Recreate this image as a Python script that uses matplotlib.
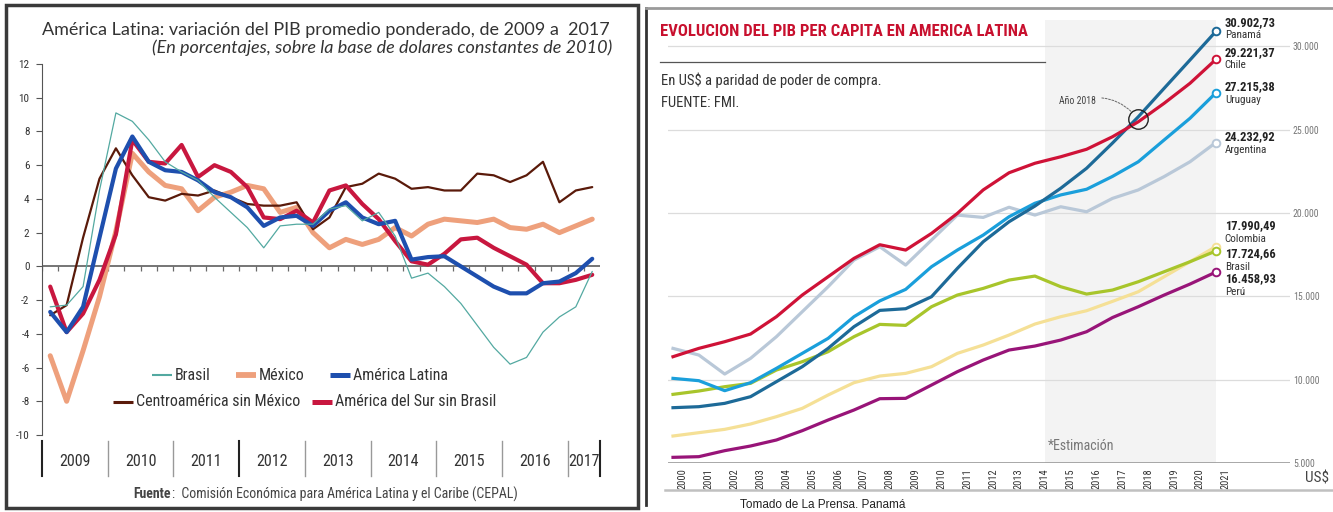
import numpy as np
import matplotlib
matplotlib.use("Agg")
import matplotlib.pyplot as plt
from matplotlib import font_manager
from matplotlib.patches import Rectangle
from matplotlib.transforms import ScaledTranslation

_nombres = {f.name for f in font_manager.fontManager.ttflist}


def fuente(*prefs):
    return [n for n in prefs if n in _nombres] + ["DejaVu Sans"]


COND = fuente("Roboto Condensed", "Fira Sans Condensed", "Liberation Sans Narrow")
TIT = fuente("Lato", "Open Sans")
SANS = fuente("Liberation Sans", "Arimo")
plt.rcParams["font.family"] = COND
plt.rcParams["axes.unicode_minus"] = False

# ---------- izquierda: variación del PIB (%), trimestral 2009T1 - 2017T2 ----------
anios_izq = [2009, 2010, 2011, 2012, 2013, 2014, 2015, 2016, 2017]
trimestres_2017 = 2

brasil_pib = [-2.4, -2.3, -1.2, 4.5,
              9.1, 8.6, 7.5, 6.2,
              5.6, 5.1, 4.1, 3.2,
              2.3, 1.1, 2.4, 2.5,
              2.5, 3.4, 3.6, 2.7,
              3.2, 1.8, -0.7, -0.4,
              -1.2, -2.2, -3.5, -4.8,
              -5.8, -5.4, -3.9, -3.0,
              -2.4, -0.3]
mexico_pib = [-5.3, -8.0, -5.0, -1.8,
              2.1, 6.7, 5.6, 4.8,
              4.6, 3.3, 4.1, 4.4,
              4.8, 4.6, 3.2, 3.5,
              2.0, 1.1, 1.6, 1.3,
              1.6, 2.3, 1.8, 2.5,
              2.8, 2.7, 2.6, 2.8,
              2.3, 2.2, 2.5, 2.0,
              2.4, 2.8]
america_latina_pib = [-2.7, -3.9, -2.4, 1.7,
                      5.8, 7.7, 6.2, 5.7,
                      5.6, 5.1, 4.4, 4.1,
                      3.5, 2.4, 2.9, 3.0,
                      2.4, 3.3, 3.8, 2.9,
                      2.5, 2.7, 0.4, 0.55,
                      0.6, 0.0, -0.6, -1.2,
                      -1.6, -1.6, -1.0, -0.9,
                      -0.4, 0.45]
centroamerica_pib = [-2.9, -2.3, 1.7, 5.2,
                     7.0, 5.4, 4.1, 3.9,
                     4.3, 4.2, 4.5, 4.1,
                     3.7, 3.6, 3.6, 3.8,
                     2.2, 2.9, 4.7, 4.9,
                     5.5, 5.2, 4.6, 4.7,
                     4.5, 4.5, 5.5, 5.4,
                     5.0, 5.4, 6.2, 3.8,
                     4.5, 4.7]
sur_sin_brasil_pib = [-1.2, -3.9, -2.8, -0.8,
                      1.9, 7.5, 6.2, 6.1,
                      7.2, 5.3, 6.0, 5.6,
                      4.7, 2.9, 2.8, 3.3,
                      2.6, 4.5, 4.8, 3.7,
                      2.8, 1.5, 0.3, 0.1,
                      0.75, 1.6, 1.7, 1.1,
                      0.6, 0.1, -1.0, -1.0,
                      -0.8, -0.5]

# ---------- derecha: PIB per cápita (US$ PPA) ----------
anios_der = list(range(2000, 2022))
panama = [8320, 8380, 8580, 8980, 9880, 10780, 11880, 13180, 14160, 14260, 14980,
          16680, 18280, 19480, 20420, 21490, 22690, 24200, 25780, 27490, 29190, 30902.73]
chile = [11380, 11880, 12280, 12740, 13780, 15080, 16180, 17280, 18100, 17780, 18780,
         19980, 21390, 22420, 22990, 23380, 23830, 24580, 25480, 26590, 27790, 29221.37]
uruguay = [10080, 9940, 9340, 9820, 10680, 11580, 12480, 13780, 14730, 15420, 16780,
           17780, 18680, 19780, 20590, 21090, 21430, 22200, 23080, 24390, 25690, 27215.38]
argentina = [11880, 11480, 10340, 11280, 12580, 14080, 15580, 17180, 17980, 16880, 18380,
             19880, 19740, 20350, 19880, 20380, 20080, 20880, 21390, 22190, 23080, 24232.92]
colombia = [6620, 6820, 7020, 7340, 7780, 8280, 9080, 9820, 10220, 10380, 10780,
            11580, 12080, 12680, 13340, 13780, 14140, 14700, 15280, 16180, 17080, 17990.49]
brasil_pc = [9120, 9320, 9580, 9780, 10580, 11080, 11680, 12580, 13320, 13260, 14380,
             15080, 15480, 15980, 16220, 15580, 15140, 15380, 15880, 16480, 17080, 17724.66]
peru = [5340, 5380, 5740, 6020, 6380, 6940, 7580, 8180, 8860, 8880, 9680,
        10480, 11180, 11780, 12020, 12380, 12880, 13730, 14380, 15080, 15740, 16458.93]
paises = ["Colombia", "Perú", "Brasil", "Argentina", "Uruguay", "Panamá", "Chile"]
inicio_estimacion = 2014.4


def fmt_es(v, dec=2):
    s = f"{v:,.{dec}f}"
    return s.replace(",", "X").replace(".", ",").replace("X", ".")


fig = plt.figure(figsize=(13.33, 5.12), dpi=100)
fig.patch.set_facecolor("white")

# ================= panel izquierdo =================
ax1 = fig.add_axes([42 / 1333, 77 / 512, 558 / 1333, 371 / 512])
t_q = []
for a in anios_izq:
    n = trimestres_2017 if a == 2017 else 4
    t_q += [a + (q - 0.5) / 4 for q in range(1, n + 1)]
t_q = np.array(t_q)

estilos = {
    "Brasil": dict(color="#53a9a1", lw=0.9, zorder=6),
    "México": dict(color="#eea07c", lw=3.6, zorder=3),
    "América Latina": dict(color="#1e4fae", lw=3.0, zorder=5),
    "Centroamérica sin México": dict(color="#5a1a0a", lw=1.6, zorder=4),
    "América del Sur sin Brasil": dict(color="#c8173f", lw=3.0, zorder=4),
}
series_izq = {
    "Brasil": brasil_pib,
    "México": mexico_pib,
    "América Latina": america_latina_pib,
    "Centroamérica sin México": centroamerica_pib,
    "América del Sur sin Brasil": sur_sin_brasil_pib,
}
for nombre, vals in series_izq.items():
    ax1.plot(t_q, vals, solid_capstyle="round", solid_joinstyle="round", **estilos[nombre])

x_fin = 2009 + 558 / 65.7
ax1.set_xlim(2009, x_fin)
ax1.set_ylim(-10, 12)
ax1.set_yticks(range(-10, 13, 2))
ax1.set_xticks([])
for s in ["top", "right", "bottom"]:
    ax1.spines[s].set_visible(False)
ax1.spines["left"].set_color("#555555")
ax1.tick_params(axis="y", length=4, color="#555555", labelsize=8, labelcolor="#333333", pad=5)
ax1.axhline(0, color="#6a6a6a", lw=1.3, zorder=2)
cortes = np.arange(2009, x_fin, 0.25)
ax1.vlines(cortes, -0.28, 0, color="#6a6a6a", lw=0.9, zorder=2)

tr = ax1.get_xaxis_transform()
limites = anios_izq + [x_fin]
for a in limites:
    oscuro = a in (2009, 2012, x_fin)
    ax1.plot([a, a], [-0.015, -0.11], transform=tr, clip_on=False,
             color="#222222" if oscuro else "#999999", lw=1.5 if oscuro else 1.0)
for a, b in zip(limites[:-1], limites[1:]):
    ax1.text((a + b) / 2, -0.072, str(a), transform=tr, ha="center", va="center",
             fontsize=11.5, color="#333333")

# ================= panel derecho =================
ax2 = fig.add_axes([668 / 1333, 49 / 512, 622 / 1333, 443 / 512])
series_der = {"Colombia": colombia, "Perú": peru, "Brasil": brasil_pc, "Argentina": argentina,
              "Uruguay": uruguay, "Panamá": panama, "Chile": chile}
colores = {"Panamá": "#1d6a98", "Chile": "#cf1237", "Uruguay": "#1a9fdb", "Argentina": "#b9c8d8",
           "Colombia": "#f5e096", "Brasil": "#a8c52b", "Perú": "#981478"}
# desplazamiento vertical (px) de cifra y nombre respecto al punto final
desp = {"Panamá": (9, -4), "Chile": (7, -6), "Uruguay": (6, -7), "Argentina": (6, -7),
        "Colombia": (21, 8), "Brasil": (-3, -16), "Perú": (-7, -20)}

ax2.axvspan(inicio_estimacion, anios_der[-1], color="#f3f3f3", zorder=0, lw=0)
for p in paises:
    vals = series_der[p]
    ax2.plot(anios_der, vals, color=colores[p], lw=2.3, zorder=3, solid_joinstyle="round")
    ax2.plot(anios_der[-1], vals[-1], "o", ms=5.5, mfc="white", mec=colores[p], mew=1.4, zorder=5)
    dv, dn = desp[p]
    ax2.annotate(fmt_es(vals[-1]), (anios_der[-1], vals[-1]), xytext=(9, dv),
                 textcoords="offset pixels", ha="left", va="center", fontsize=9,
                 fontweight="bold", color="#222222")
    ax2.annotate(p, (anios_der[-1], vals[-1]), xytext=(9, dn),
                 textcoords="offset pixels", ha="left", va="center", fontsize=8,
                 color="#333333")

ax2.set_xlim(2000 - 5 / 25.85, 2000 + 617 / 25.85)
ax2.set_ylim(5000, 5000 + 443 * 60.02)
ax2.set_yticks(range(5000, 30001, 5000))
ax2.yaxis.tick_right()
ax2.set_yticklabels([fmt_es(v, 0) for v in range(5000, 30001, 5000)])
ax2.tick_params(axis="y", length=0, pad=2, labelsize=7, labelcolor="#777777")
ax2.grid(axis="y", color="#dcdcdc", lw=0.9, zorder=1)
ax2.axhline(5000, color="#9a9a9a", lw=1.2, zorder=2)
ax2.set_xticks(anios_der)
ax2.set_xticklabels([str(a) for a in anios_der], rotation=90, fontsize=7.5, color="#333333")
ax2.tick_params(axis="x", length=0, pad=4)
for lab in ax2.get_xticklabels():
    lab.set_transform(lab.get_transform() + ScaledTranslation(0.1, 0, fig.dpi_scale_trans))
for s in ax2.spines.values():
    s.set_visible(False)

# círculo del cruce en 2018
i18 = anios_der.index(2018)
y18 = (panama[i18] + chile[i18]) / 2
ax2.plot(2018, y18, "o", ms=14, mfc="none", mec="#222222", mew=1.0, zorder=6)
ax2.annotate("Año 2018", (2018, y18), xytext=(-42, 18), textcoords="offset pixels",
             ha="right", va="center", fontsize=7, color="#444444",
             arrowprops=dict(arrowstyle="-", ls=(0, (2, 1.5)), color="#666666", lw=0.7,
                             shrinkA=2, shrinkB=7, connectionstyle="arc3,rad=-0.35"))
ax2.text(inicio_estimacion + 0.1, 6000, "*Estimación", fontsize=10, color="#777777",
         ha="left", va="center")

# ================= capa de textos y marcos (px) =================
ov = fig.add_axes([0, 0, 1, 1], zorder=10)
ov.set_xlim(0, 1333)
ov.set_ylim(512, 0)
ov.axis("off")

ov.add_patch(Rectangle((6, 5), 632, 503, fill=False, ec="#3a3a3a", lw=2.5))
ov.plot([646, 646], [8, 505], color="#333333", lw=2)
ov.plot([646, 1333], [8, 8], color="#9a9a9a", lw=2)

ov.text(42, 30, "América Latina: variación del PIB promedio ponderado, de 2009 a  2017",
        fontsize=13, color="#333333", ha="left", va="center", family=TIT)
ov.text(612, 48, "(En porcentajes, sobre la base de dolares constantes de 2010)",
        fontsize=13, style="italic", color="#333333", ha="right", va="center", family=TIT)

# leyenda
fila1, fila2 = 375, 402
items = [("Brasil", 152, fila1), ("México", 236, fila1), ("América Latina", 330, fila1),
         ("Centroamérica sin México", 113, fila2), ("América del Sur sin Brasil", 312, fila2)]
for nombre, x0, y0 in items:
    st = estilos[nombre]
    ov.plot([x0, x0 + 20], [y0, y0], color=st["color"], lw=st["lw"] + 0.6, solid_capstyle="butt")
    ov.text(x0 + 23, y0, nombre, fontsize=11.5, color="#333333", ha="left", va="center")

t_f = ov.text(133, 494, "Fuente", fontsize=10, fontweight="bold", color="#444444",
              ha="left", va="center")
fig.canvas.draw()
bb = t_f.get_window_extent()
ov.text(bb.x1 + 1, 494, ":  Comisión Económica para América Latina y el Caribe (CEPAL)",
        fontsize=10, color="#444444", ha="left", va="center")

ov.text(660, 32, "EVOLUCION DEL PIB PER CAPITA EN AMERICA LATINA", fontsize=12,
        fontweight="bold", color="#c8102e", ha="left", va="center")
ov.plot([660, 1045], [62, 62], color="#555555", lw=0.9)
ov.text(661, 80, "En US$ a paridad de poder de compra.", fontsize=10.5, color="#333333",
        ha="left", va="center")
ov.text(661, 103, "FUENTE: FMI.", fontsize=10.5, color="#333333", ha="left", va="center")
ov.text(1305, 479, "US$", fontsize=11, color="#444444", ha="left", va="center")
ov.plot([665, 1333], [490, 490], color="#c0c0c0", lw=1.8)
ov.text(740, 505, "Tomado de La Prensa. Panamá", fontsize=8.5, color="#222222", ha="left",
        va="center", family=SANS)

fig.savefig("out.png", dpi=100, facecolor="white")
